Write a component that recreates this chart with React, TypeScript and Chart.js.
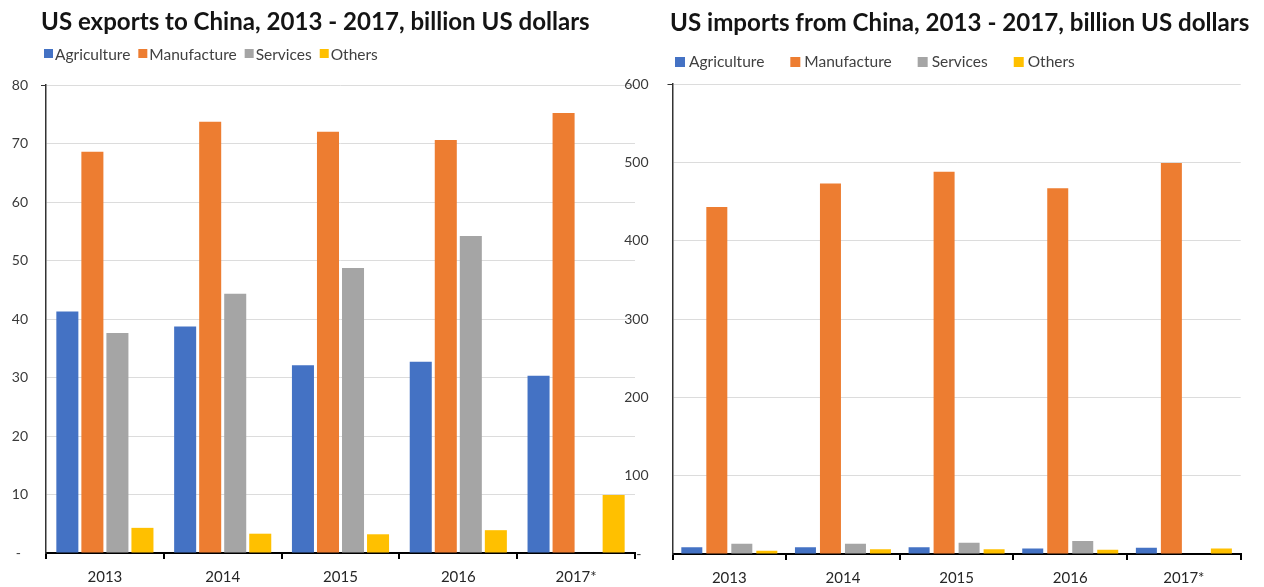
import React, { useEffect, useRef } from "react";
import { Chart, registerables } from "chart.js";

Chart.register(...registerables);

// ---------- data ----------
const categories = ["2013", "2014", "2015", "2016", "2017*"];
const seriesNames = ["Agriculture", "Manufacture", "Services", "Others"];
const seriesColors = ["#4472C4", "#ED7D31", "#A5A5A5", "#FFC000"];

const exportsTitle = "US exports to China, 2013 - 2017, billion US dollars";
const exportsAgriculture = [41.3, 38.7, 32.1, 32.7, 30.3];
const exportsManufacture = [68.6, 73.7, 72.0, 70.6, 75.2];
const exportsServices = [37.6, 44.3, 48.7, 54.2, null];
const exportsOthers = [4.3, 3.3, 3.2, 3.9, 9.9];
const exportsAxisMax = 80;
const exportsAxisStep = 10;

const importsTitle = "US imports from China, 2013 - 2017, billion US dollars";
const importsAgriculture = [8.5, 8.5, 8.5, 7, 8];
const importsManufacture = [443, 473, 488, 467, 499];
const importsServices = [13, 13, 14.5, 16.5, null];
const importsOthers = [4, 6, 6, 5.5, 7];
const importsAxisMax = 600;
const importsAxisStep = 100;

const zeroLabel = "-  ";

// ---------- header (title + legend) plugin ----------
const headerPlugin = {
  id: "header",
  afterDraw(chart: any, _args: any, o: any) {
    const ctx = chart.ctx;
    ctx.save();
    ctx.textAlign = "left";
    ctx.textBaseline = "alphabetic";
    // title, fitted to target width
    ctx.font = `bold 20px Lato`;
    const w = ctx.measureText(o.title).width;
    const size = (20 * o.titleWidth) / w;
    ctx.font = `bold ${size}px Lato`;
    ctx.fillStyle = "#141414";
    ctx.fillText(o.title, o.titleX, o.titleY);
    // legend
    ctx.font = `${o.legendSize}px Lato`;
    let x = o.legendX;
    chart.data.datasets.forEach((ds: any) => {
      ctx.fillStyle = ds.backgroundColor;
      ctx.fillRect(x, o.boxTop, o.box, o.box);
      x += o.box + o.boxGap;
      ctx.fillStyle = "#404040";
      ctx.fillText(ds.label, x, o.legendY);
      x += ctx.measureText(ds.label).width + o.itemGap;
    });
    ctx.restore();
  },
};

function makeConfig(p: any): any {
  const values = p.values;
  return {
    type: "bar",
    data: {
      labels: categories,
      datasets: values.map((v: any, i: number) => ({
        label: seriesNames[i],
        data: v,
        backgroundColor: seriesColors[i],
        categoryPercentage: p.catPct,
        barPercentage: p.barPct,
      })),
    },
    options: {
      animation: false,
      responsive: true,
      maintainAspectRatio: false,
      layout: { padding: { top: p.top, right: p.right, bottom: 0, left: 0 } },
      plugins: {
        legend: { display: false },
        title: { display: false },
        tooltip: { enabled: false },
        header: p.header,
      },
      scales: {
        x: {
          offset: true,
          grid: {
            offset: true,
            drawOnChartArea: false,
            drawTicks: true,
            tickLength: 6,
            color: "#000",
            lineWidth: 2,
          },
          border: { display: true, color: "#000", width: 2 },
          ticks: {
            color: "#262626",
            font: { family: "Lato", size: 15 },
            padding: 9,
          },
          afterFit: (s: any) => {
            s.height = p.bottomH;
          },
        },
        y: {
          min: 0,
          max: p.max,
          ticks: {
            stepSize: p.step,
            callback: (v: any) => (v === 0 ? zeroLabel : String(v)),
            color: "#3a3a3a",
            font: { family: "Lato", size: 14 },
            padding: p.yPad,
          },
          grid: {
            color: "#dcdcdc",
            lineWidth: 1,
            drawTicks: true,
            tickLength: 5,
            tickColor: (c: any) =>
              c.tick && c.tick.value === p.max ? "#333" : "rgba(0,0,0,0)",
          },
          border: { display: true, color: "#333", width: 1.5 },
          afterFit: (s: any) => {
            s.width = p.axisW;
          },
        },
      },
    },
    plugins: [headerPlugin],
  };
}

function BarChart({ cfg, style }: { cfg: any; style: React.CSSProperties }) {
  const ref = useRef<HTMLCanvasElement>(null);
  useEffect(() => {
    const chart = new Chart(ref.current!, cfg);
    return () => chart.destroy();
  }, []);
  return (
    <div style={style}>
      <canvas ref={ref} />
    </div>
  );
}

export default function App() {
  const leftCfg = makeConfig({
    values: [exportsAgriculture, exportsManufacture, exportsServices, exportsOthers],
    catPct: 0.85,
    barPct: 0.88,
    top: 85,
    right: 5,
    axisW: 46,
    bottomH: 34,
    yPad: 13,
    max: exportsAxisMax,
    step: exportsAxisStep,
    header: {
      title: exportsTitle,
      titleX: 41,
      titleY: 29.5,
      titleWidth: 549,
      legendX: 44,
      boxTop: 49,
      box: 9,
      boxGap: 2,
      itemGap: 8,
      legendY: 60,
      legendSize: 15.5,
    },
  });
  const rightCfg = makeConfig({
    values: [importsAgriculture, importsManufacture, importsServices, importsOthers],
    catPct: 0.88,
    barPct: 0.84,
    top: 84,
    right: 23.3,
    axisW: 60.5,
    bottomH: 33,
    yPad: 19,
    max: importsAxisMax,
    step: importsAxisStep,
    header: {
      title: importsTitle,
      titleX: 58,
      titleY: 31,
      titleWidth: 580,
      legendX: 63,
      boxTop: 57,
      box: 10,
      boxGap: 4,
      itemGap: 26,
      legendY: 66.5,
      legendSize: 15.5,
    },
  });
  return (
    <div
      style={{
        position: "fixed",
        left: 0,
        top: 0,
        width: 1264,
        height: 587,
        background: "#fff",
        overflow: "hidden",
      }}
    >
      <BarChart cfg={leftCfg} style={{ position: "absolute", left: 0, top: 0, width: 640, height: 587 }} />
      <BarChart cfg={rightCfg} style={{ position: "absolute", left: 612, top: 0, width: 652, height: 587 }} />
    </div>
  );
}
